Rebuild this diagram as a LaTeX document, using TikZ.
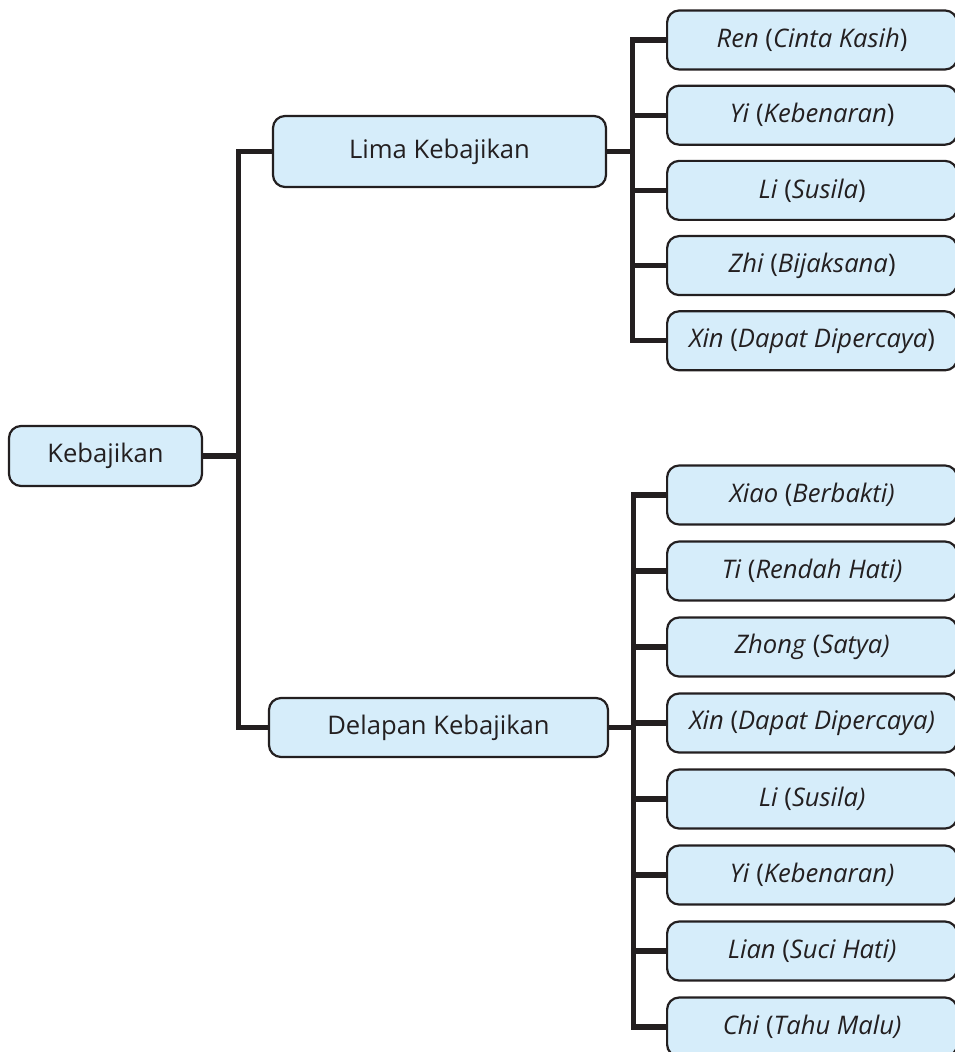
\documentclass[tikz,border=0pt]{standalone}
\usepackage{fontspec}
\setmainfont{Open Sans}
\usetikzlibrary{ calc, positioning }
\definecolor{box_blue}{HTML}{D6EDFA}
\definecolor{ink}{HTML}{231F20}
\tikzset{
    generic_node/.style={rectangle, rounded corners=6pt, text centered, align=center, draw=ink, line width=1.1pt, fill=box_blue, text=ink, font=\fontsize{12.8pt}{15pt}\selectfont},
    root_node/.style={generic_node, minimum width=96.5pt, minimum height=30pt},
    leaf_node/.style={generic_node, minimum width=145pt, minimum height=29.5pt, anchor=west},
    branch/.style={line width=2.6pt, draw=ink},
}

\begin{document}
\begin{tikzpicture}
    \useasboundingbox (0,0) rectangle (477pt,-526pt);
    %%%%%%%%%%%%%
    % MAIN NODE %
    %%%%%%%%%%%%%
    \node (root) [root_node] at (52.75pt,-228pt)
        {Kebajikan};
    \node (lima) [generic_node, minimum width=166.5pt, minimum height=35.5pt] at (219.75pt,-75.75pt)
        {Lima Kebajikan};
    \node (delapan) [generic_node, minimum width=169.5pt, minimum height=29.5pt] at (219.25pt,-363.75pt)
        {Delapan Kebajikan};

    %%%%%%%%%%%%%%%%%%
    % LIMA KEBAJIKAN %
    %%%%%%%%%%%%%%%%%%
    \node (ren) [leaf_node] at (333pt,-20pt)
        {\textit{Ren} (\textit{Cinta Kasih})};
    \node (yi_a) [leaf_node, below = 7pt of ren.south west, anchor=north west]
        {\textit{Yi} (\textit{Kebenaran})};
    \node (li_a) [leaf_node, below = 7pt of yi_a.south west, anchor=north west]
        {\textit{Li} (\textit{Susila})};
    \node (zhi) [leaf_node, below = 7pt of li_a.south west, anchor=north west]
        {\textit{Zhi} (\textit{Bijaksana})};
    \node (xin_a) [leaf_node, below = 7pt of zhi.south west, anchor=north west]
        {\textit{Xin} (\textit{Dapat Dipercaya})};

    %%%%%%%%%%%%%%%%%%%%%
    % DELAPAN KEBAJIKAN %
    %%%%%%%%%%%%%%%%%%%%%
    \node (xiao) [leaf_node] at (333pt,-247.5pt)
        {\textit{Xiao} (\textit{Berbakti)}};
    \node (ti) [leaf_node, below = 7.4pt of xiao.south west, anchor=north west]
        {\textit{Ti} (\textit{Rendah Hati)}};
    \node (zhong) [leaf_node, below = 7.4pt of ti.south west, anchor=north west]
        {\textit{Zhong} (\textit{Satya)}};
    \node (xin_b) [leaf_node, below = 7.4pt of zhong.south west, anchor=north west]
        {\textit{Xin} (\textit{Dapat Dipercaya)}};
    \node (li_b) [leaf_node, below = 7.4pt of xin_b.south west, anchor=north west]
        {\textit{Li} (\textit{Susila)}};
    \node (yi_b) [leaf_node, below = 7.4pt of li_b.south west, anchor=north west]
        {\textit{Yi} (\textit{Kebenaran)}};
    \node (lian) [leaf_node, below = 7.4pt of yi_b.south west, anchor=north west]
        {\textit{Lian} (\textit{Suci Hati)}};
    \node (chi) [leaf_node, below = 7.4pt of lian.south west, anchor=north west]
        {\textit{Chi} (\textit{Tahu Malu)}};

    %%%%%%%%%%%%
    % BRANCHES %
    %%%%%%%%%%%%
    \coordinate (trunk) at ($(root.east)+(17.5pt,0)$);
    \draw [branch] (root.east) -- (trunk);
    \draw [branch] (lima.west) -| (trunk) |- (delapan.west);

    \coordinate (lima_j) at ($(lima.east)+(12.5pt,0)$);
    \draw [branch] (lima.east) -- (lima_j);
    \draw [branch] (ren.west) -| (lima_j) |- (xin_a.west);
    \draw [branch] (yi_a.west) -- (lima_j |- yi_a.west);
    \draw [branch] (li_a.west) -- (lima_j |- li_a.west);
    \draw [branch] (zhi.west) -- (lima_j |- zhi.west);

    \coordinate (delapan_j) at ($(delapan.east)+(12pt,0)$);
    \draw [branch] (delapan.east) -- (delapan_j);
    \draw [branch] (xiao.west) -| (delapan_j) |- (chi.west);
    \draw [branch] (ti.west) -- (delapan_j |- ti.west);
    \draw [branch] (zhong.west) -- (delapan_j |- zhong.west);
    \draw [branch] (xin_b.west) -- (delapan_j |- xin_b.west);
    \draw [branch] (li_b.west) -- (delapan_j |- li_b.west);
    \draw [branch] (yi_b.west) -- (delapan_j |- yi_b.west);
    \draw [branch] (lian.west) -- (delapan_j |- lian.west);

\end{tikzpicture}
\end{document}
